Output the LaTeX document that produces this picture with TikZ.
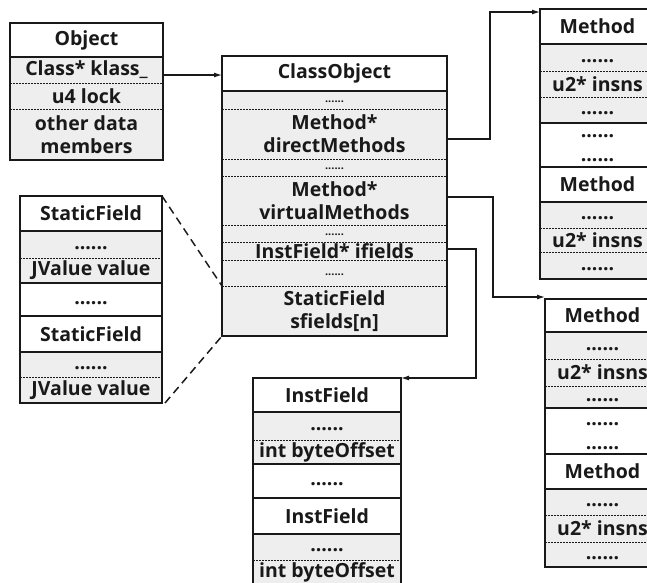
\documentclass[tikz,border=0pt]{standalone}
\usepackage{fontspec}
\setmainfont{Open Sans}
\usetikzlibrary{arrows.meta,calc}
\definecolor{cellgray}{RGB}{238,238,238}
\definecolor{ink}{RGB}{25,25,25}
\newcommand\fieldfont{\fontsize{19.5}{23}\selectfont\bfseries}
\newcommand\smalldotfont{\fontsize{11}{12}\selectfont\bfseries}
\newcommand\rowdots{\vphantom{Ag}......}
\newcommand\tinydots{{\smalldotfont\strut......}}
\tikzset{
 cell/.style={anchor=north west, inner sep=0pt, outer sep=0pt, align=center, font=\fieldfont, text=ink},
 dotlbl/.style={inner sep=0pt, font=\fieldfont, text=ink},
 boxline/.style={draw=ink, line width=1.5pt},
 solidsep/.style={draw=ink, line width=1.3pt},
 dashsep/.style={draw=ink, line width=1pt, dash pattern=on 2pt off 1pt},
 ptr/.style={draw=ink, line width=1.2pt, -{Latex[length=8pt,width=5pt]}},
 zoomline/.style={draw=ink, line width=1.5pt, dash pattern=on 8pt off 5pt},
}
\newcommand\mkcell[7]{\node[cell, fill=#6, minimum width=#4pt, minimum height=#5pt] (#1) at (#2,#3) {#7};}
\newcommand\ssep[1]{\draw[solidsep] (#1.south west) -- (#1.south east);}
\newcommand\dsep[1]{\draw[dashsep] (#1.south west) -- (#1.south east);}
\begin{document}
\begin{tikzpicture}[x=1pt,y=-1pt]
\useasboundingbox (0,0) rectangle (647,582);
% ---------------- Object
\mkcell{objH}{10}{23}{153}{34}{white}{Object}
\mkcell{objK}{10}{57}{153}{26}{cellgray}{Class* klass\_}
\mkcell{objL}{10}{83}{153}{26}{cellgray}{u4 lock}
\mkcell{objO}{10}{109}{153}{51}{cellgray}{other data\\members}
\ssep{objH}\dsep{objK}\dsep{objL}
\draw[boxline] (objH.north west) rectangle (objO.south east);
% ---------------- ClassObject
\mkcell{coH}{222}{56}{225}{35}{white}{ClassObject}
\mkcell{coA}{222}{91}{225}{18}{cellgray}{\tinydots}
\mkcell{coDM}{222}{109}{225}{50}{cellgray}{Method*\\directMethods}
\mkcell{coB}{222}{159}{225}{17}{cellgray}{\tinydots}
\mkcell{coVM}{222}{176}{225}{49}{cellgray}{Method*\\virtualMethods}
\mkcell{coC}{222}{225}{225}{17}{cellgray}{\tinydots}
\mkcell{coIF}{222}{242}{225}{18}{cellgray}{InstField* ifields}
\mkcell{coD}{222}{260}{225}{26}{cellgray}{\tinydots}
\mkcell{coSF}{222}{286}{225}{50}{cellgray}{StaticField\\sfields[n]}
\ssep{coH}\dsep{coA}\dsep{coDM}\dsep{coB}\dsep{coVM}\dsep{coC}\dsep{coIF}\dsep{coD}
\draw[boxline] (coH.north west) rectangle (coSF.south east);
% ---------------- StaticField array
\mkcell{sfAH}{20}{196}{142}{35}{white}{StaticField}
\mkcell{sfAD}{20}{231}{142}{27}{cellgray}{\rowdots}
\mkcell{sfAV}{20}{258}{142}{25}{cellgray}{JValue value}
\mkcell{sfM}{20}{283}{142}{33}{white}{\rowdots}
\mkcell{sfBH}{20}{316}{142}{36}{white}{StaticField}
\mkcell{sfBD}{20}{352}{142}{25}{cellgray}{\rowdots}
\mkcell{sfBV}{20}{377}{142}{26}{cellgray}{JValue value}
\ssep{sfAH}\dsep{sfAD}\ssep{sfAV}\ssep{sfM}\ssep{sfBH}\dsep{sfBD}
\draw[boxline] (sfAH.north west) rectangle (sfBV.south east);
% ---------------- InstField array
\mkcell{ifAH}{253}{378}{148}{34}{white}{InstField}
\mkcell{ifAD}{253}{412}{148}{28}{cellgray}{\rowdots}
\mkcell{ifAV}{253}{440}{148}{24}{cellgray}{int byteOffset}
\mkcell{ifM}{253}{464}{148}{34}{white}{\rowdots}
\mkcell{ifBH}{253}{498}{148}{36}{white}{InstField}
\mkcell{ifBD}{253}{534}{148}{26}{cellgray}{\rowdots}
\mkcell{ifBV}{253}{560}{148}{24}{cellgray}{int byteOffset}
\ssep{ifAH}\dsep{ifAD}\ssep{ifAV}\ssep{ifM}\ssep{ifBH}\dsep{ifBD}
\draw[boxline] (ifBV.south west) -- (ifAH.north west) -- (ifAH.north east) -- (ifBV.south east);
% ---------------- Method array (direct)
\mkcell{mAH}{540}{9}{115}{35}{white}{Method}
\mkcell{mAA}{540}{44}{115}{27}{cellgray}{\rowdots}
\mkcell{mAI}{540}{71}{115}{26}{cellgray}{u2* insns}
\mkcell{mAB}{540}{97}{115}{26}{cellgray}{\rowdots}
\mkcell{mAM}{540}{123}{115}{44}{white}{}
\node[dotlbl] (mAMdotsA) at (597.5,136) {......};
\node[dotlbl] (mAMdotsB) at (597.5,160) {......};
\mkcell{mBH}{540}{167}{115}{35}{white}{Method}
\mkcell{mBA}{540}{202}{115}{26}{cellgray}{\rowdots}
\mkcell{mBI}{540}{228}{115}{24}{cellgray}{u2* insns}
\mkcell{mBB}{540}{252}{115}{27}{cellgray}{\rowdots}
\ssep{mAH}\dsep{mAA}\dsep{mAI}\ssep{mAB}\ssep{mAM}\ssep{mBH}\dsep{mBA}\dsep{mBI}
\draw[boxline] (mAH.north west) rectangle (mBB.south east);
% ---------------- Method array (virtual)
\mkcell{mCH}{545}{299}{115}{33}{white}{Method}
\mkcell{mCA}{545}{332}{115}{27}{cellgray}{\rowdots}
\mkcell{mCI}{545}{359}{115}{27}{cellgray}{u2* insns}
\mkcell{mCB}{545}{386}{115}{22}{cellgray}{\rowdots}
\mkcell{mCM}{545}{408}{115}{46}{white}{}
\node[dotlbl] (mCMdotsA) at (602.5,424) {......};
\node[dotlbl] (mCMdotsB) at (602.5,448) {......};
\mkcell{mDH}{545}{454}{115}{35}{white}{Method}
\mkcell{mDA}{545}{489}{115}{26}{cellgray}{\rowdots}
\mkcell{mDI}{545}{515}{115}{27}{cellgray}{u2* insns}
\mkcell{mDB}{545}{542}{115}{25}{cellgray}{\rowdots}
\ssep{mCH}\dsep{mCA}\dsep{mCI}\ssep{mCB}\ssep{mCM}\ssep{mDH}\dsep{mDA}\dsep{mDI}
\draw[boxline] (mCH.north west) rectangle (mDB.south east);
% ---------------- connectors
\coordinate (kOut) at ([yshift=-5pt]objK.east);
\draw[ptr] (kOut) -- (kOut -| coH.west);
\coordinate (dmOut) at ([yshift=-5pt]coDM.east);
\draw[ptr] (dmOut) -- ++(43,0) |- ([yshift=-3pt]mAH.north west);
\coordinate (vmOut) at ([yshift=3.5pt]coVM.east);
\draw[ptr] (vmOut) -- ++(46,0) |- ([yshift=2pt]mCH.north west);
\coordinate (ifOut) at ([yshift=2pt]coIF.east);
\draw[ptr] (ifOut) -- ++(29,0) |- (ifAH.north east);
\draw[zoomline] (sfAH.north east) -- (coSF.north west);
\draw[zoomline] ([xshift=3pt]sfBV.south east) -- (coSF.south west);
\end{tikzpicture}
\end{document}
